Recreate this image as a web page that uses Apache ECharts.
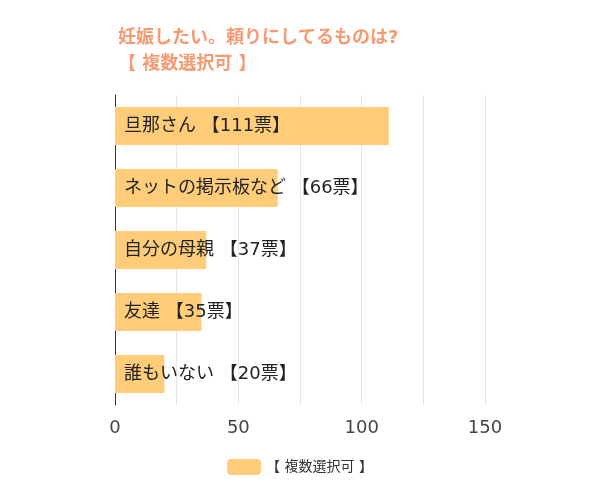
<!DOCTYPE html><html><head><meta charset="utf-8"><script src="https://cdn.jsdelivr.net/npm/echarts@6/dist/echarts.min.js"></script></head><body style="margin:0"><div id="c" style="width:600px;height:500px"></div><script>
const categories=["旦那さん","ネットの掲示板など","自分の母親","友達","誰もいない"];
const values=[111,66,37,35,20];
const seriesName="【 複数選択可 】";
const F="DejaVu Sans, Noto Sans CJK JP";
const c=echarts.init(document.getElementById('c'));
c.setOption({
title:{text:"妊娠したい。頼りにしてるものは?\n【 複数選択可 】",left:113,top:20,textStyle:{color:"#F79A72",fontSize:18,fontWeight:"bold",lineHeight:26,fontFamily:F}},
legend:{bottom:20,left:"center",itemWidth:34,itemHeight:16,textStyle:{fontSize:14,color:"#333",fontFamily:F}},
grid:{left:115,right:115,top:95,bottom:95},
xAxis:{type:"value",min:0,max:150,interval:25,axisLine:{show:false},axisTick:{show:false},splitLine:{lineStyle:{color:"#e6e6e6"}},
axisLabel:{fontSize:18,color:"#444",margin:14,fontFamily:F,formatter:v=>v%50===0?v:""}},
yAxis:{type:"category",inverse:true,data:categories,axisLabel:{show:false},axisTick:{show:false},axisLine:{lineStyle:{color:"#333"}}},
series:[{name:seriesName,type:"bar",data:values,barWidth:38,itemStyle:{color:"#FFCD7A"},
label:{show:true,position:"insideLeft",offset:[4,0],fontSize:18,color:"#222",fontFamily:F,formatter:p=>p.name+" 【"+p.value+"票】"}}]
});
</script></body></html>
